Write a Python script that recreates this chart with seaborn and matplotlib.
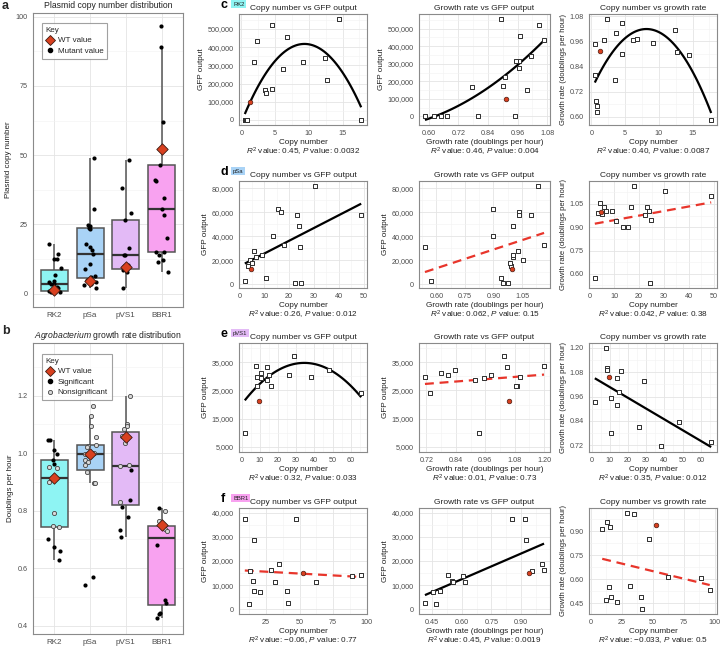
import numpy as np
import pandas as pd
import matplotlib
matplotlib.use("Agg")
import matplotlib.pyplot as plt
import seaborn as sns
from matplotlib.ticker import FuncFormatter, AutoMinorLocator
from matplotlib.lines import Line2D

# ---------------- data ----------------
plasmids = ["RK2", "pSa", "pVS1", "BBR1"]
box_colors = ["#8EF4F3", "#A9D3F6", "#E3BAF6", "#F8A2F0"]

# panel a: plasmid copy number of mutants
copy_box_RK2 = [17.8, 14.5, 12.7, 12.4, 9.1, 6.8, 4.6, 4.1, 3.6, 3.5, 2.3, 1.9, 1.4, 0.85, 0.8, 0.7, 0.6, 0.5]
copy_box_pSa = [2.2, 3.0, 3.5, 4.3, 5.1, 5.9, 6.5, 9.0, 10.6, 14.5, 15.6, 16.8, 18.0, 23.3, 23.8, 24.3, 24.9, 30.5, 49.0]
copy_box_pVS1 = [2.0, 8.0, 8.5, 9.0, 10.0, 10.5, 14.0, 14.0, 16.5, 26.5, 29.0, 38.0, 48.2]
copy_box_BBR1 = [96.5, 89.0, 62.0, 52.5, 46.5, 41.0, 40.5, 34.5, 30.5, 28.5, 20.0, 15.0, 15.0, 14.0, 12.0, 11.5, 8.0]
wt_copy = [1.2, 4.5, 9.5, 52.3]

# panel b: growth rate (doublings per hour)
growth_sig_RK2 = [1.046, 1.046, 1.01, 0.998, 0.975, 0.963, 0.70, 0.675, 0.658, 0.63]
growth_nonsig_RK2 = [0.953, 0.948, 0.915, 0.90, 0.793, 0.745, 0.743]
growth_sig_pSa = [0.57, 0.54]
growth_nonsig_pSa = [1.165, 1.128, 1.095, 1.055, 1.028, 1.025, 1.02, 1.0, 0.998, 0.995,
                     0.975, 0.968, 0.96, 0.935, 0.895, 0.895]
growth_sig_pVS1 = [0.94, 0.837, 0.811, 0.777, 0.733, 0.71]
growth_nonsig_pVS1 = [1.2, 1.10, 1.093, 1.085, 1.06, 1.035, 0.958, 0.955, 0.83]
growth_sig_BBR1 = [0.81, 0.68, 0.49, 0.48, 0.445, 0.44, 0.425]
growth_nonsig_BBR1 = [0.80, 0.765, 0.74, 0.735, 0.73]
wt_growth = [0.915, 0.998, 1.055, 0.75]

# panels c-f: per-mutant copy number, growth rate and GFP output
rk2_copy = [0.5, 0.6, 0.7, 0.8, 0.85, 1.9, 2.3, 3.55, 3.6, 4.5, 4.55, 6.1, 6.75, 9.15, 12.35, 12.75, 14.5, 17.75]
rk2_growth = [0.80, 0.95, 0.674, 0.622, 0.65, 0.965, 1.067, 0.774, 1.0, 1.046, 0.90, 0.965, 0.97, 0.954, 1.013, 0.909, 0.893, 0.585]
rk2_gfp = [0, 0, 0, 0, 0, 318000, 435000, 167000, 149000, 522000, 172000, 278000, 459000, 318000, 343000, 222000, 555000, 0]
rk2_wt = [1.25, 0.914, 100000]

psa_copy = [2.2, 3.5, 4.3, 5.1, 5.9, 6.5, 9.0, 10.6, 13.4, 15.6, 16.8, 18.0, 22.2, 23.3, 24.0, 24.3, 24.9, 30.5, 49.0]
psa_growth = [0.573, 0.993, 1.056, 0.985, 1.031, 1.003, 1.003, 0.938, 0.90, 0.90, 1.033, 1.166, 0.976, 1.033, 1.003, 0.54, 0.948, 1.132, 1.098]
psa_gfp = [2700, 15000, 20000, 18000, 28000, 23000, 24000, 5200, 40000, 63000, 60000, 33000, 1100, 58000, 48500, 31000, 800, 82000, 58000]
psa_wt = [4.6, 1.0, 12900]

pvs1_copy = [1.8, 7.7, 8.5, 8.6, 10.5, 10.7, 14.0, 14.1, 15.1, 16.4, 26.3, 28.9, 38.1, 47.9, 65.7]
pvs1_growth = [0.935, 1.20, 1.10, 1.09, 0.78, 0.955, 1.05, 0.92, 0.985, 1.085, 0.81, 1.035, 0.714, 0.837, 0.735]
pvs1_gfp = [10000, 33700, 29700, 26600, 31100, 29500, 33400, 28600, 30300, 26600, 30300, 37300, 29700, 32200, 24200]
pvs1_wt = [9.4, 1.055, 21200]

bbr1_copy = [9.1, 12.4, 13.1, 14.9, 15.7, 16.2, 20.7, 28.8, 31.3, 34.6, 40.4, 41.4, 47.0, 62.1, 88.9, 96.0]
bbr1_growth = [0.918, 0.472, 0.956, 0.55, 0.926, 0.488, 0.456, 1.016, 0.556, 1.006, 0.49, 0.414, 0.854, 0.614, 0.606, 0.532]
bbr1_gfp = [37300, 2000, 16000, 11600, 28700, 7700, 7300, 16300, 11300, 18900, 7600, 2700, 37300, 11100, 13600, 14300]
bbr1_wt = [52.3, 0.942, 14900]

stats = {
    "RK2": ["0.45", "0.0032", "0.46", "0.004", "0.40", "0.0087"],
    "pSa": ["0.26", "0.012", "0.062", "0.15", "0.042", "0.38"],
    "pVS1": ["0.32", "0.033", "0.01", "0.73", "0.35", "0.012"],
    "BBR1": ["\u22120.06", "0.77", "0.45", "0.0019", "\u22120.033", "0.5"],
}
# fit order (1 linear, 2 quadratic) and significance for each panel
fit_order = {"RK2": [2, 2, 2], "pSa": [1, 1, 1], "pVS1": [2, 1, 1], "BBR1": [1, 1, 1]}
fit_sig = {"RK2": [True, True, True], "pSa": [True, False, False],
           "pVS1": [True, False, True], "BBR1": [False, True, False]}

copy_ticks = {"RK2": [0, 5, 10, 15], "pSa": [0, 10, 20, 30, 40, 50],
              "pVS1": [0, 10, 20, 30, 40, 50, 60], "BBR1": [25, 50, 75, 100]}
copy_ticks3 = {"RK2": [0, 5, 10, 15], "pSa": [0, 10, 20, 30, 40, 50],
               "pVS1": [0, 10, 20, 30, 40, 50, 60], "BBR1": [0, 25, 50, 75, 100]}
growth_ticks = {"RK2": [0.60, 0.72, 0.84, 0.96, 1.08], "pSa": [0.60, 0.75, 0.90, 1.05],
                "pVS1": [0.72, 0.84, 0.96, 1.08, 1.20], "BBR1": [0.45, 0.60, 0.75, 0.90]}
gfp_ticks = {"RK2": [0, 100000, 200000, 300000, 400000, 500000],
             "pSa": [0, 20000, 40000, 60000, 80000],
             "pVS1": [5000, 15000, 25000, 35000],
             "BBR1": [0, 10000, 20000, 30000, 40000]}
gfp_limits = {"RK2": None, "pSa": None, "pVS1": (5000, 40000), "BBR1": (0, 40000)}

# ---------------- style ----------------
sns.set_theme(style="white")
plt.rcParams["font.family"] = ["Liberation Sans", "DejaVu Sans"]
plt.rcParams["mathtext.fontset"] = "custom"
plt.rcParams["mathtext.rm"] = "Liberation Sans"
plt.rcParams["mathtext.it"] = "Liberation Sans:italic"
plt.rcParams["mathtext.bf"] = "Liberation Sans:bold"

W, H = 721, 651
fig = plt.figure(figsize=(W / 100, H / 100), dpi=100)
fig.patch.set_facecolor("white")

GRID_MAJ = "#E4E4E4"
GRID_MIN = "#F2F2F2"
SPINE = "#8a8a8a"
TICKLAB = "#4d4d4d"
RED = "#D8401F"


def add_ax(x0, y0, x1, y1):
    return fig.add_axes([x0 / W, 1 - y1 / H, (x1 - x0) / W, (y1 - y0) / H])


def style(ax, xminor=True, yminor=True):
    ax.set_facecolor("white")
    for s in ax.spines.values():
        s.set_visible(True)
        s.set_color(SPINE)
        s.set_linewidth(0.8)
    if xminor:
        ax.xaxis.set_minor_locator(AutoMinorLocator(2))
    if yminor:
        ax.yaxis.set_minor_locator(AutoMinorLocator(2))
    ax.grid(True, which="major", color=GRID_MAJ, lw=0.6)
    ax.grid(True, which="minor", color=GRID_MIN, lw=0.4)
    ax.set_axisbelow(True)
    ax.tick_params(which="major", length=2.2, width=0.6, color=SPINE,
                   labelsize=5.2, labelcolor=TICKLAB, pad=1.5)
    ax.tick_params(which="minor", length=0)


gfp_fmt = FuncFormatter(lambda v, p: f"{v:,.0f}")
g2_fmt = FuncFormatter(lambda v, p: f"{v:.2f}")

# ---------------- panel a ----------------
axa = add_ax(33, 13, 183, 307)
rows = []
for p, vals in zip(plasmids, [copy_box_RK2, copy_box_pSa, copy_box_pVS1, copy_box_BBR1]):
    rows += [(p, v) for v in vals]
df_a = pd.DataFrame(rows, columns=["plasmid", "copy"])
pal = dict(zip(plasmids, box_colors))
box_kw = dict(order=plasmids, hue="plasmid", hue_order=plasmids, palette=pal, width=0.75,
              showfliers=False, showcaps=False, linewidth=1.1, linecolor="#555555",
              medianprops=dict(color="#333333", linewidth=1.6), saturation=1, legend=False)
sns.boxplot(data=df_a, x="plasmid", y="copy", ax=axa, **box_kw)
np.random.seed(7)
sns.stripplot(data=df_a, x="plasmid", y="copy", order=plasmids, color="black", size=3.0,
              jitter=0.18, ax=axa, zorder=3)
axa.scatter(range(4), wt_copy, marker="D", s=34, c=RED, edgecolors="#3b1a12", linewidths=0.6, zorder=5)
style(axa, xminor=False)
axa.set_xlim(-0.6, 3.6)
axa.set_ylim(-4.8, 101.3)
axa.set_yticks([0, 25, 50, 75, 100])
axa.set_xlabel("")
axa.set_ylabel("Plasmid copy number", fontsize=5.8, color="#222222", labelpad=3)
axa.set_title("Plasmid copy number distribution", fontsize=6.2, color="#222222", pad=3.5)
axa.tick_params(axis="x", labelsize=5.8)
h_a = [Line2D([], [], marker="D", ls="", ms=5.5, mfc=RED, mec="#3b1a12", mew=0.6),
       Line2D([], [], marker="o", ls="", ms=3.0, mfc="black", mec="black")]
leg = axa.legend(h_a, ["WT value", "Mutant value"], title="Key", loc="upper left",
                 bbox_to_anchor=(0.03, 0.98), fontsize=5.8, title_fontsize=5.8, frameon=True,
                 fancybox=False, edgecolor=SPINE, borderpad=0.5, labelspacing=0.35,
                 handletextpad=0.3, handlelength=1.2, alignment="left")
leg.get_frame().set_linewidth(0.8)

# ---------------- panel b ----------------
axb = add_ax(33, 343, 183, 634)
rows = []
for p, s_vals, n_vals in zip(plasmids, [growth_sig_RK2, growth_sig_pSa, growth_sig_pVS1, growth_sig_BBR1],
                             [growth_nonsig_RK2, growth_nonsig_pSa, growth_nonsig_pVS1, growth_nonsig_BBR1]):
    rows += [(p, v, "Significant") for v in s_vals]
    rows += [(p, v, "Nonsignificant") for v in n_vals]
df_b = pd.DataFrame(rows, columns=["plasmid", "growth", "sig"])
sns.boxplot(data=df_b, x="plasmid", y="growth", ax=axb, **box_kw)
np.random.seed(11)
sns.stripplot(data=df_b[df_b.sig == "Significant"], x="plasmid", y="growth", order=plasmids,
              color="black", size=3.0, jitter=0.18, ax=axb, zorder=3)
sns.stripplot(data=df_b[df_b.sig == "Nonsignificant"], x="plasmid", y="growth", order=plasmids,
              color="#d9d9d9", edgecolor="#444444", linewidth=0.6, size=3.0, jitter=0.18, ax=axb, zorder=3)
axb.scatter(range(4), wt_growth, marker="D", s=34, c=RED, edgecolors="#3b1a12", linewidths=0.6, zorder=5)
style(axb, xminor=False)
axb.set_xlim(-0.6, 3.6)
axb.set_ylim(0.371, 1.383)
axb.set_yticks([0.4, 0.6, 0.8, 1.0, 1.2])
axb.yaxis.set_major_formatter(FuncFormatter(lambda v, p: f"{v:.1f}"))
axb.set_xlabel("")
axb.set_ylabel("Doublings per hour", fontsize=5.8, color="#222222", labelpad=3)
axb.set_title(r"$\it{Agrobacterium}$ growth rate distribution", fontsize=6.2, color="#222222", pad=3.5)
axb.tick_params(axis="x", labelsize=5.8)
h_b = [Line2D([], [], marker="D", ls="", ms=5.5, mfc=RED, mec="#3b1a12", mew=0.6),
       Line2D([], [], marker="o", ls="", ms=3.0, mfc="black", mec="black"),
       Line2D([], [], marker="o", ls="", ms=3.0, mfc="#d9d9d9", mec="#444444", mew=0.6)]
leg = axb.legend(h_b, ["WT value", "Significant", "Nonsignificant"], title="Key", loc="upper left",
                 bbox_to_anchor=(0.03, 0.976), fontsize=5.8, title_fontsize=5.8, frameon=True,
                 fancybox=False, edgecolor=SPINE, borderpad=0.5, labelspacing=0.35,
                 handletextpad=0.3, handlelength=1.2, alignment="left")
leg.get_frame().set_linewidth(0.8)

# ---------------- panels c-f ----------------
col_x = [(239, 367), (419, 550), (589, 717)]
row_y = {"RK2": (14, 125), "pSa": (181, 288), "pVS1": (343, 452), "BBR1": (508, 614)}
row_letter = {"RK2": "c", "pSa": "d", "pVS1": "e", "BBR1": "f"}
data = {"RK2": (rk2_copy, rk2_growth, rk2_gfp, rk2_wt),
        "pSa": (psa_copy, psa_growth, psa_gfp, psa_wt),
        "pVS1": (pvs1_copy, pvs1_growth, pvs1_gfp, pvs1_wt),
        "BBR1": (bbr1_copy, bbr1_growth, bbr1_gfp, bbr1_wt)}
titles = ["Copy number vs GFP output", "Growth rate vs GFP output", "Copy number vs growth rate"]
xlabels = ["Copy number", "Growth rate (doublings per hour)", "Copy number"]
ylabels = ["GFP output", "GFP output", "Growth rate (doublings per hour)"]


def scatter_panel(ax, x, y, wx, wy, order, sig):
    df = pd.DataFrame({"x": x, "y": y})
    if sig:
        lk = dict(color="black", lw=1.6, solid_capstyle="butt")
    else:
        lk = dict(color="#E8352B", lw=1.6, ls=(0, (4, 2.6)))
    sns.regplot(data=df, x="x", y="y", order=order, ci=None, scatter=False, truncate=True,
                ax=ax, line_kws=lk)
    sns.scatterplot(data=df, x="x", y="y", marker="s", s=8, color="white", edgecolor="#2e2e2e",
                    linewidth=0.7, ax=ax, zorder=3)
    ax.scatter([wx], [wy], marker="o", s=11, c=RED, edgecolors="#4a1a10", linewidths=0.5, zorder=4)


for i, p in enumerate(plasmids):
    cp, gr, gf, wt = data[p]
    y0, y1 = row_y[p]
    st = stats[p]
    pairs = [(cp, gf, wt[0], wt[2]), (gr, gf, wt[1], wt[2]), (cp, gr, wt[0], wt[1])]
    for j in range(3):
        ax = add_ax(col_x[j][0], y0, col_x[j][1], y1)
        xv, yv, wx, wy = pairs[j]
        scatter_panel(ax, xv, yv, wx, wy, fit_order[p][j], fit_sig[p][j])
        style(ax)
        if j == 0:
            ax.set_xticks(copy_ticks[p])
        elif j == 1:
            ax.set_xticks(growth_ticks[p])
            ax.xaxis.set_major_formatter(g2_fmt)
        else:
            ax.set_xticks(copy_ticks3[p])
        if j < 2:
            ax.set_yticks(gfp_ticks[p])
            ax.yaxis.set_major_formatter(gfp_fmt)
            if gfp_limits[p] is not None:
                lo, hi = gfp_limits[p]
                pad = 0.05 * (hi - lo)
                ax.set_ylim(lo - pad, hi + pad)
        else:
            ax.set_yticks(growth_ticks[p])
            ax.yaxis.set_major_formatter(g2_fmt)
        if p == "BBR1" and j == 2:
            ax.set_xlim(-1.6, 101.9)
        ax.xaxis.set_minor_locator(AutoMinorLocator(2))
        ax.yaxis.set_minor_locator(AutoMinorLocator(2))
        ax.tick_params(which="minor", length=0)
        ax.set_title(titles[j], fontsize=6.0, color="#222222", pad=3)
        r2, pv = st[2 * j], st[2 * j + 1]
        ax.set_xlabel(xlabels[j] + "\n" + r"$R^2$" + f" value: {r2}, " + r"$P$" + f" value: {pv}",
                      fontsize=5.9, color="#222222", labelpad=1.2, linespacing=1.05)
        ax.set_ylabel(ylabels[j], fontsize=5.9 if j < 2 else 5.5, color="#222222", labelpad=2)
    # row label with plasmid tag
    ty = y0 - 9
    fig.text(221 / W, 1 - ty / H, row_letter[p], fontsize=9, fontweight="bold",
             va="center", ha="left", color="black")
    fig.text(233 / W, 1 - (ty - 1) / H, p, fontsize=4.2, va="center", ha="left",
             color="#222222", bbox=dict(boxstyle="square,pad=0.3", fc=box_colors[i], ec="none"))

fig.text(2 / W, 1 - 6 / H, "a", fontsize=9, fontweight="bold", va="center", ha="left")
fig.text(2 / W, 1 - 331 / H, "b", fontsize=9, fontweight="bold", va="center", ha="left")

fig.savefig("out.png", dpi=100, facecolor="white")
